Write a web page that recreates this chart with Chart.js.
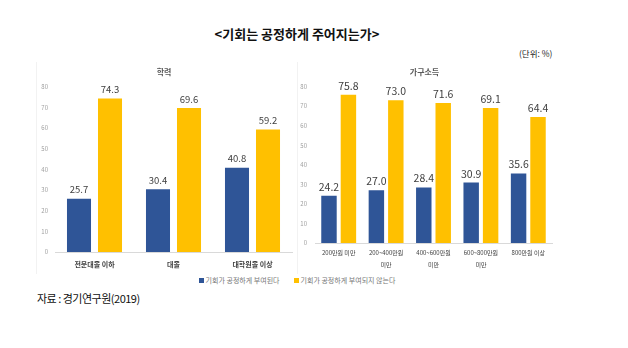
<!DOCTYPE html>
<html>
<head>
<meta charset="utf-8">
<script src="https://cdn.jsdelivr.net/npm/chart.js@4"></script>
<style>
  body { margin: 0; background: #fff; font-family: "Noto Sans CJK KR", sans-serif; }
  #wrap { position: relative; width: 628px; height: 348px; }
  .abs { position: absolute; white-space: nowrap; }
  #title { left: 0; width: 594px; top: 24px; text-align: center; font-size: 13px; font-weight: bold; color: #111; }
  #unit { left: 519px; top: 47px; font-size: 8.5px; color: #222; }
  #source { left: 37px; top: 290px; font-size: 11px; color: #111; letter-spacing: -0.5px; }
  #legend { left: 0; width: 594px; top: 275px; text-align: center; font-size: 7px; color: #777; }
  #legend span.sw { display: inline-block; width: 5px; height: 5px; margin-right: 2px; vertical-align: 0px; }
  #legend span.item { margin: 0 7px; }
  .frame { position: absolute; width: 1px; background: #f2f2f2; top: 62px; height: 212px; }
  canvas { position: absolute; }
</style>
</head>
<body>
<div id="wrap">
  <div id="title" class="abs">&lt;기회는 공정하게 주어지는가&gt;</div>
  <div id="unit" class="abs">(단위: %)</div>
  <div class="frame" style="left:36px"></div>
  <div class="frame" style="left:297px"></div>
  <canvas id="eduChart" style="left:36px; top:62px; width:261px; height:212px"></canvas>
  <canvas id="incomeChart" style="left:297px; top:62px; width:265px; height:212px"></canvas>
  <div id="legend" class="abs"></div>
  <div id="source" class="abs">자료 : 경기연구원(2019)</div>
</div>
<script>
const seriesNames = ['기회가 공정하게 부여된다', '기회가 공정하게 부여되지 않는다'];
const seriesColors = ['#2F5597', '#FFC000'];

const eduLabels = ['전문대졸 이하', '대졸', '대학원졸 이상'];
const eduFair = [25.7, 30.4, 40.8];
const eduUnfair = [74.3, 69.6, 59.2];

const incomeLabels = ['200만원 미만', ['200~400만원', '미만'], ['400~600만원', '미만'], ['600~800만원', '미만'], '800만원 이상'];
const incomeFair = [24.2, 27.0, 28.4, 30.9, 35.6];
const incomeUnfair = [75.8, 73.0, 71.6, 69.1, 64.4];

const yTicks = [0, 10, 20, 30, 40, 50, 60, 70, 80];

const fontFamily = '"Noto Sans CJK KR", sans-serif';

// draws the value above each bar
const valueLabels = {
  id: 'valueLabels',
  afterDatasetsDraw(chart, args, opts) {
    const ctx = chart.ctx;
    ctx.save();
    ctx.font = opts.size + 'px ' + fontFamily;
    ctx.fillStyle = '#404040';
    ctx.textAlign = 'center';
    ctx.textBaseline = 'middle';
    chart.data.datasets.forEach((ds, i) => {
      chart.getDatasetMeta(i).data.forEach((bar, j) => {
        ctx.fillText(ds.data[j].toFixed(1), bar.x, bar.y - 9);
      });
    });
    ctx.restore();
  }
};

function makeChart(id, title, labels, fair, unfair, cfg) {
  return new Chart(document.getElementById(id), {
    type: 'bar',
    data: {
      labels: labels,
      datasets: [
        { label: seriesNames[0], data: fair, backgroundColor: seriesColors[0] },
        { label: seriesNames[1], data: unfair, backgroundColor: seriesColors[1] }
      ]
    },
    plugins: [valueLabels],
    options: {
      responsive: false,
      animation: false,
      categoryPercentage: cfg.catPct,
      barPercentage: cfg.barPct,
      layout: { padding: { left: 0, right: cfg.padRight, top: 0, bottom: 0 } },
      plugins: {
        legend: { display: false },
        tooltip: { enabled: false },
        title: {
          display: true,
          text: title,
          color: '#595959',
          font: { family: fontFamily, size: 8, weight: 'bold' },
          padding: { top: 5, bottom: cfg.titleGap }
        },
        valueLabels: { size: cfg.valueSize }
      },
      scales: {
        x: {
          grid: { display: false, drawTicks: false },
          border: { color: '#d9d9d9' },
          ticks: {
            color: cfg.xColor,
            padding: cfg.xPad,
            maxRotation: 0,
            autoSkip: false,
            font: { family: fontFamily, size: cfg.xSize, weight: cfg.xWeight, lineHeight: cfg.xLine }
          },
          afterFit(scale) { scale.height = cfg.xHeight; }
        },
        y: {
          min: 0,
          max: 80,
          grid: { display: false, drawTicks: false },
          border: { display: false },
          afterBuildTicks(scale) { scale.ticks = yTicks.map(v => ({ value: v })); },
          ticks: {
            color: '#a0a0a0',
            padding: cfg.yPad,
            font: { family: fontFamily, size: 6 }
          },
          afterFit(scale) { scale.width = cfg.yWidth; }
        }
      }
    }
  });
}

makeChart('eduChart', '학력', eduLabels, eduFair, eduUnfair, {
  catPct: 0.785, barPct: 0.775, padRight: 5, titleGap: 10, valueSize: 9.5,
  xColor: '#404040', xSize: 7, xWeight: 'bold', xLine: 1.2, xPad: 8, xHeight: 22,
  yWidth: 19, yPad: 7
});

makeChart('incomeChart', '가구소득', incomeLabels, incomeFair, incomeUnfair, {
  catPct: 0.82, barPct: 0.795, padRight: 10, titleGap: 10, valueSize: 10.5,
  xColor: '#404040', xSize: 6, xWeight: 'normal', xLine: 2.1, xPad: 3, xHeight: 31,
  yWidth: 18, yPad: 8
});

const legend = document.getElementById('legend');
seriesNames.forEach((name, i) => {
  const item = document.createElement('span');
  item.className = 'item';
  const sw = document.createElement('span');
  sw.className = 'sw';
  sw.style.background = seriesColors[i];
  item.appendChild(sw);
  item.appendChild(document.createTextNode(name));
  legend.appendChild(item);
});
</script>
</body>
</html>
